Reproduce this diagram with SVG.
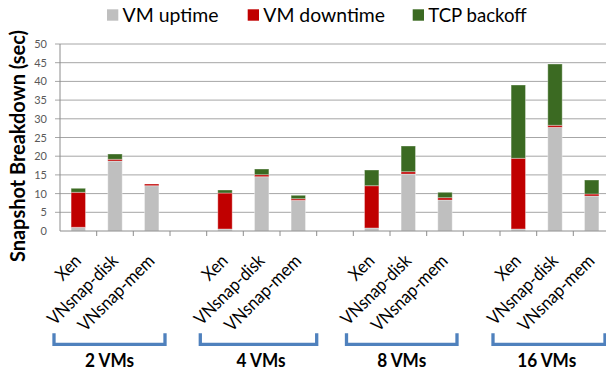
<svg xmlns="http://www.w3.org/2000/svg" width="606" height="373" viewBox="0 0 606 373">
<style>
text{font-family:Lato,"Open Sans","Liberation Sans",sans-serif}
.grid{stroke:#a6a6a6;stroke-width:1}
.axis{stroke:#8c8c8c;stroke-width:1}
.ylab{font-size:11px;fill:#595959;text-anchor:end}
.xlab{font-size:18px;fill:#000;text-anchor:end}
.leg{font-size:20px;fill:#000}
.up{fill:#bfbfbf}
.down{fill:#c00000}
.tcp{fill:#3b6a22}
.bar rect{stroke:#ffffff;stroke-opacity:0.35;stroke-width:1}
.br{fill:none;stroke:#4f81bd;stroke-width:3.3}
.grp{font-size:19px;font-weight:bold;text-anchor:middle;fill:#000}
</style>
<rect width="606" height="373" fill="#fff"/>
<g id="legend">
<rect class="up" x="107" y="9.3" width="11.3" height="11.4"/>
<text class="leg" x="122.5" y="21.7" textLength="96" lengthAdjust="spacingAndGlyphs">VM uptime</text>
<rect class="down" x="247.7" y="9.3" width="11.3" height="11.4"/>
<text class="leg" x="263.3" y="21.7" textLength="121.7" lengthAdjust="spacingAndGlyphs">VM downtime</text>
<rect class="tcp" x="412.7" y="9.3" width="11.3" height="11.4"/>
<text class="leg" x="428.3" y="21.7" textLength="98.4" lengthAdjust="spacingAndGlyphs">TCP backoff</text>
</g>
<g id="gridlines">
<line class="grid" x1="55" y1="44" x2="606" y2="44"/>
<line class="grid" x1="55" y1="62.7" x2="606" y2="62.7"/>
<line class="grid" x1="55" y1="81.4" x2="606" y2="81.4"/>
<line class="grid" x1="55" y1="100.1" x2="606" y2="100.1"/>
<line class="grid" x1="55" y1="118.8" x2="606" y2="118.8"/>
<line class="grid" x1="55" y1="137.5" x2="606" y2="137.5"/>
<line class="grid" x1="55" y1="156.2" x2="606" y2="156.2"/>
<line class="grid" x1="55" y1="174.9" x2="606" y2="174.9"/>
<line class="grid" x1="55" y1="193.6" x2="606" y2="193.6"/>
<line class="grid" x1="55" y1="212.3" x2="606" y2="212.3"/>
</g>
<g id="y-axis">
<line class="axis" x1="60" y1="44" x2="60" y2="231"/>
<text class="ylab" x="47" y="48">50</text>
<text class="ylab" x="47" y="66.7">45</text>
<text class="ylab" x="47" y="85.4">40</text>
<text class="ylab" x="47" y="104.1">35</text>
<text class="ylab" x="47" y="122.8">30</text>
<text class="ylab" x="47" y="141.5">25</text>
<text class="ylab" x="47" y="160.2">20</text>
<text class="ylab" x="47" y="178.9">15</text>
<text class="ylab" x="47" y="197.6">10</text>
<text class="ylab" x="47" y="216.3">5</text>
<text class="ylab" x="47" y="235">0</text>
<text transform="translate(25,146) rotate(-90)" font-size="21" font-weight="bold" text-anchor="middle" textLength="232" lengthAdjust="spacingAndGlyphs">Snapshot Breakdown (sec)</text>
</g>
<g id="bars">
<g id="bar-2vm-xen" class="bar"><rect class="up" x="71.1" y="227.3" width="14.4" height="3.7"/><rect class="down" x="71.1" y="192.3" width="14.4" height="35"/><rect class="tcp" x="71.1" y="188.3" width="14.4" height="4"/></g>
<g id="bar-2vm-disk" class="bar"><rect class="up" x="107.8" y="161" width="14.4" height="70"/><rect class="down" x="107.8" y="159.3" width="14.4" height="1.7"/><rect class="tcp" x="107.8" y="154" width="14.4" height="5.3"/></g>
<g id="bar-2vm-mem" class="bar"><rect class="up" x="144.5" y="185.7" width="14.4" height="45.3"/><rect class="down" x="144.5" y="184" width="14.4" height="1.7"/></g>
<g id="bar-4vm-xen" class="bar"><rect class="up" x="217.8" y="229" width="14.4" height="2"/><rect class="down" x="217.8" y="193" width="14.4" height="36"/><rect class="tcp" x="217.8" y="190" width="14.4" height="3"/></g>
<g id="bar-4vm-disk" class="bar"><rect class="up" x="254.5" y="176.7" width="14.4" height="54.3"/><rect class="down" x="254.5" y="174.7" width="14.4" height="2"/><rect class="tcp" x="254.5" y="169" width="14.4" height="5.7"/></g>
<g id="bar-4vm-mem" class="bar"><rect class="up" x="291.1" y="200.3" width="14.4" height="30.7"/><rect class="down" x="291.1" y="198.7" width="14.4" height="1.6"/><rect class="tcp" x="291.1" y="195.3" width="14.4" height="3.4"/></g>
<g id="bar-8vm-xen" class="bar"><rect class="up" x="364.5" y="228" width="14.4" height="3"/><rect class="down" x="364.5" y="185.7" width="14.4" height="42.3"/><rect class="tcp" x="364.5" y="170" width="14.4" height="15.7"/></g>
<g id="bar-8vm-disk" class="bar"><rect class="up" x="401.1" y="174" width="14.4" height="57"/><rect class="down" x="401.1" y="171.7" width="14.4" height="2.3"/><rect class="tcp" x="401.1" y="146" width="14.4" height="25.7"/></g>
<g id="bar-8vm-mem" class="bar"><rect class="up" x="437.8" y="200" width="14.4" height="31"/><rect class="down" x="437.8" y="197.7" width="14.4" height="2.3"/><rect class="tcp" x="437.8" y="192.3" width="14.4" height="5.4"/></g>
<g id="bar-16vm-xen" class="bar"><rect class="up" x="511.1" y="229" width="14.4" height="2"/><rect class="down" x="511.1" y="158.3" width="14.4" height="70.7"/><rect class="tcp" x="511.1" y="85" width="14.4" height="73.3"/></g>
<g id="bar-16vm-disk" class="bar"><rect class="up" x="547.8" y="127.3" width="14.4" height="103.7"/><rect class="down" x="547.8" y="125.3" width="14.4" height="2"/><rect class="tcp" x="547.8" y="64" width="14.4" height="61.3"/></g>
<g id="bar-16vm-mem" class="bar"><rect class="up" x="584.5" y="196" width="14.4" height="35"/><rect class="down" x="584.5" y="194" width="14.4" height="2"/><rect class="tcp" x="584.5" y="180" width="14.4" height="14"/></g>
</g>
<g id="x-axis">
<line class="axis" x1="60" y1="231" x2="606" y2="231"/>
<path class="axis" fill="none" d="M96.7 231v5M133.3 231v5M170 231v5M206.7 231v5M243.3 231v5M280 231v5M316.7 231v5M353.3 231v5M390 231v5M426.7 231v5M463.3 231v5M500 231v5M536.7 231v5M573.3 231v5"/>
<text class="xlab" transform="translate(82.3,262) rotate(-45)" textLength="27.8" lengthAdjust="spacingAndGlyphs">Xen</text>
<text class="xlab" transform="translate(119,262) rotate(-45)" textLength="90.9" lengthAdjust="spacingAndGlyphs">VNsnap-disk</text>
<text class="xlab" transform="translate(155.7,262) rotate(-45)" textLength="99.8" lengthAdjust="spacingAndGlyphs">VNsnap-mem</text>
<text class="xlab" transform="translate(229,262) rotate(-45)" textLength="27.8" lengthAdjust="spacingAndGlyphs">Xen</text>
<text class="xlab" transform="translate(265.7,262) rotate(-45)" textLength="90.9" lengthAdjust="spacingAndGlyphs">VNsnap-disk</text>
<text class="xlab" transform="translate(302.3,262) rotate(-45)" textLength="99.8" lengthAdjust="spacingAndGlyphs">VNsnap-mem</text>
<text class="xlab" transform="translate(375.7,262) rotate(-45)" textLength="27.8" lengthAdjust="spacingAndGlyphs">Xen</text>
<text class="xlab" transform="translate(412.3,262) rotate(-45)" textLength="90.9" lengthAdjust="spacingAndGlyphs">VNsnap-disk</text>
<text class="xlab" transform="translate(449,262) rotate(-45)" textLength="99.8" lengthAdjust="spacingAndGlyphs">VNsnap-mem</text>
<text class="xlab" transform="translate(522.3,262) rotate(-45)" textLength="27.8" lengthAdjust="spacingAndGlyphs">Xen</text>
<text class="xlab" transform="translate(559,262) rotate(-45)" textLength="90.9" lengthAdjust="spacingAndGlyphs">VNsnap-disk</text>
<text class="xlab" transform="translate(595.7,262) rotate(-45)" textLength="99.8" lengthAdjust="spacingAndGlyphs">VNsnap-mem</text>
</g>
<g id="group-2vms"><path class="br" d="M54 333.3V344.4H165V333.3"/><text class="grp" x="109.5" y="366.5" textLength="49" lengthAdjust="spacingAndGlyphs">2 VMs</text></g>
<g id="group-4vms"><path class="br" d="M200.3 333.3V344.4H316.7V333.3"/><text class="grp" x="261" y="366.5" textLength="49" lengthAdjust="spacingAndGlyphs">4 VMs</text></g>
<g id="group-8vms"><path class="br" d="M346.5 333.3V344.4H457V333.3"/><text class="grp" x="401.7" y="366.5" textLength="49" lengthAdjust="spacingAndGlyphs">8 VMs</text></g>
<g id="group-16vms"><path class="br" d="M493 333.3V344.4H605V333.3"/><text class="grp" x="546.7" y="366.5" textLength="59" lengthAdjust="spacingAndGlyphs">16 VMs</text></g>
</svg>
